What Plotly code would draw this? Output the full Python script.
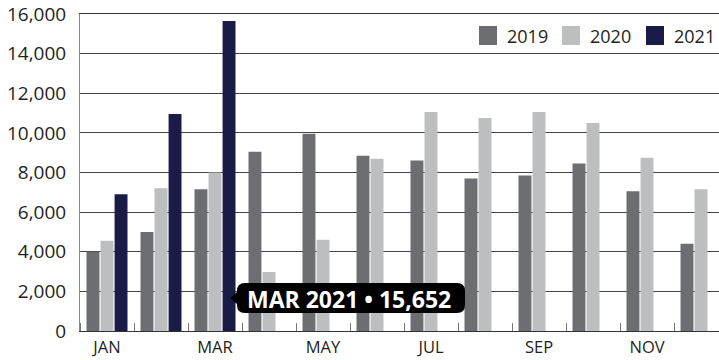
import plotly.graph_objects as go

months = ["JAN", "FEB", "MAR", "APR", "MAY", "JUN", "JUL", "AUG", "SEP", "OCT", "NOV", "DEC"]
years = ["2019", "2020", "2021"]
v2019 = [4000, 5000, 7150, 9050, 9950, 8850, 8600, 7700, 7850, 8450, 7050, 4400]
v2020 = [4550, 7200, 8000, 2980, 4600, 8700, 11050, 10750, 11050, 10500, 8750, 7150]
v2021 = [6900, 10950, 15652, None, None, None, None, None, None, None, None, None]
colors = ["#6d6e71", "#bcbec0", "#1b1b48"]
yticks = list(range(0, 16001, 2000))

FONT = "Open Sans"
W, H = 719, 360
ML, MR, MT, MB = 80, 0, 14, 29
PW, PH = W - ML - MR, H - MT - MB


def px(x):
    return (x - ML) / PW


def py(y):
    return (H - MB - y) / PH


xs = list(range(len(months)))
fig = go.Figure()
for name, vals, col in zip(years, [v2019, v2020, v2021], colors):
    fig.add_trace(go.Bar(x=xs, y=vals, name=name, marker=dict(color=col, line=dict(width=0)),
                         showlegend=False))

# custom legend
leg_x = [479, 562, 646]
for name, col, lx in zip(years, colors, leg_x):
    fig.add_shape(type="rect", xref="paper", yref="paper",
                  x0=px(lx), x1=px(lx + 18), y0=py(45), y1=py(26),
                  fillcolor=col, line=dict(width=0))
    fig.add_annotation(xref="paper", yref="paper", x=px(lx + 26), y=py(35.5),
                       text=name, showarrow=False, xanchor="left", yanchor="middle",
                       font=dict(family=FONT, size=18, color="#231f20"))

# hover-style label
hi = 2
label = f"{months[hi]} {years[2]} \u2022 {v2021[hi]:,}"
path = ("M 0,0 L 7,6 L 7,7 Q 7,15 15,15 L 227,15 Q 235,15 235,7 L 235,-7 "
        "Q 235,-15 227,-15 L 15,-15 Q 7,-15 7,-7 L 7,-6 Z")
fig.add_shape(type="path", xref="paper", yref="paper", xsizemode="pixel", ysizemode="pixel",
              xanchor=px(230), yanchor=py(298), path=path,
              fillcolor="#000000", line=dict(width=0))
fig.add_annotation(xref="paper", yref="paper", x=px(349), y=py(298.5), text=f"<b>{label}</b>",
                   showarrow=False, xanchor="center", yanchor="middle",
                   font=dict(family=FONT, size=23, color="#ffffff"))

fig.update_layout(
    width=W, height=H,
    margin=dict(l=ML, r=MR, t=MT, b=MB, pad=0, autoexpand=False),
    paper_bgcolor="#ffffff", plot_bgcolor="#ffffff",
    barmode="group", bargap=0.22, bargroupgap=0.08,
    font=dict(family=FONT, size=17, color="#231f20"),
    xaxis=dict(
        range=[-0.5, 11.333], tickmode="array", tickvals=xs[::2], ticktext=months[::2],
        ticks="", showgrid=False, zeroline=False, automargin=False,
        showline=True, linecolor="#333333", linewidth=1, mirror=True,
        ticklabelstandoff=1,
        tickfont=dict(family=FONT, size=16.5, color="#231f20"),
        minor=dict(tickmode="array", tickvals=[i - 0.5 for i in xs], ticks="inside",
                   ticklen=8, tickwidth=1, tickcolor="#777777", showgrid=False),
    ),
    yaxis=dict(
        range=[0, 16000], tickmode="array", tickvals=yticks,
        ticktext=[f"{t:,}" for t in yticks], ticks="", automargin=False,
        showgrid=True, gridcolor="#444444", gridwidth=1, zeroline=False,
        showline=True, linecolor="#888888", linewidth=1,
        ticklabelstandoff=9,
        tickfont=dict(family=FONT, size=19, color="#231f20"),
    ),
)

fig.write_html("out.html")
